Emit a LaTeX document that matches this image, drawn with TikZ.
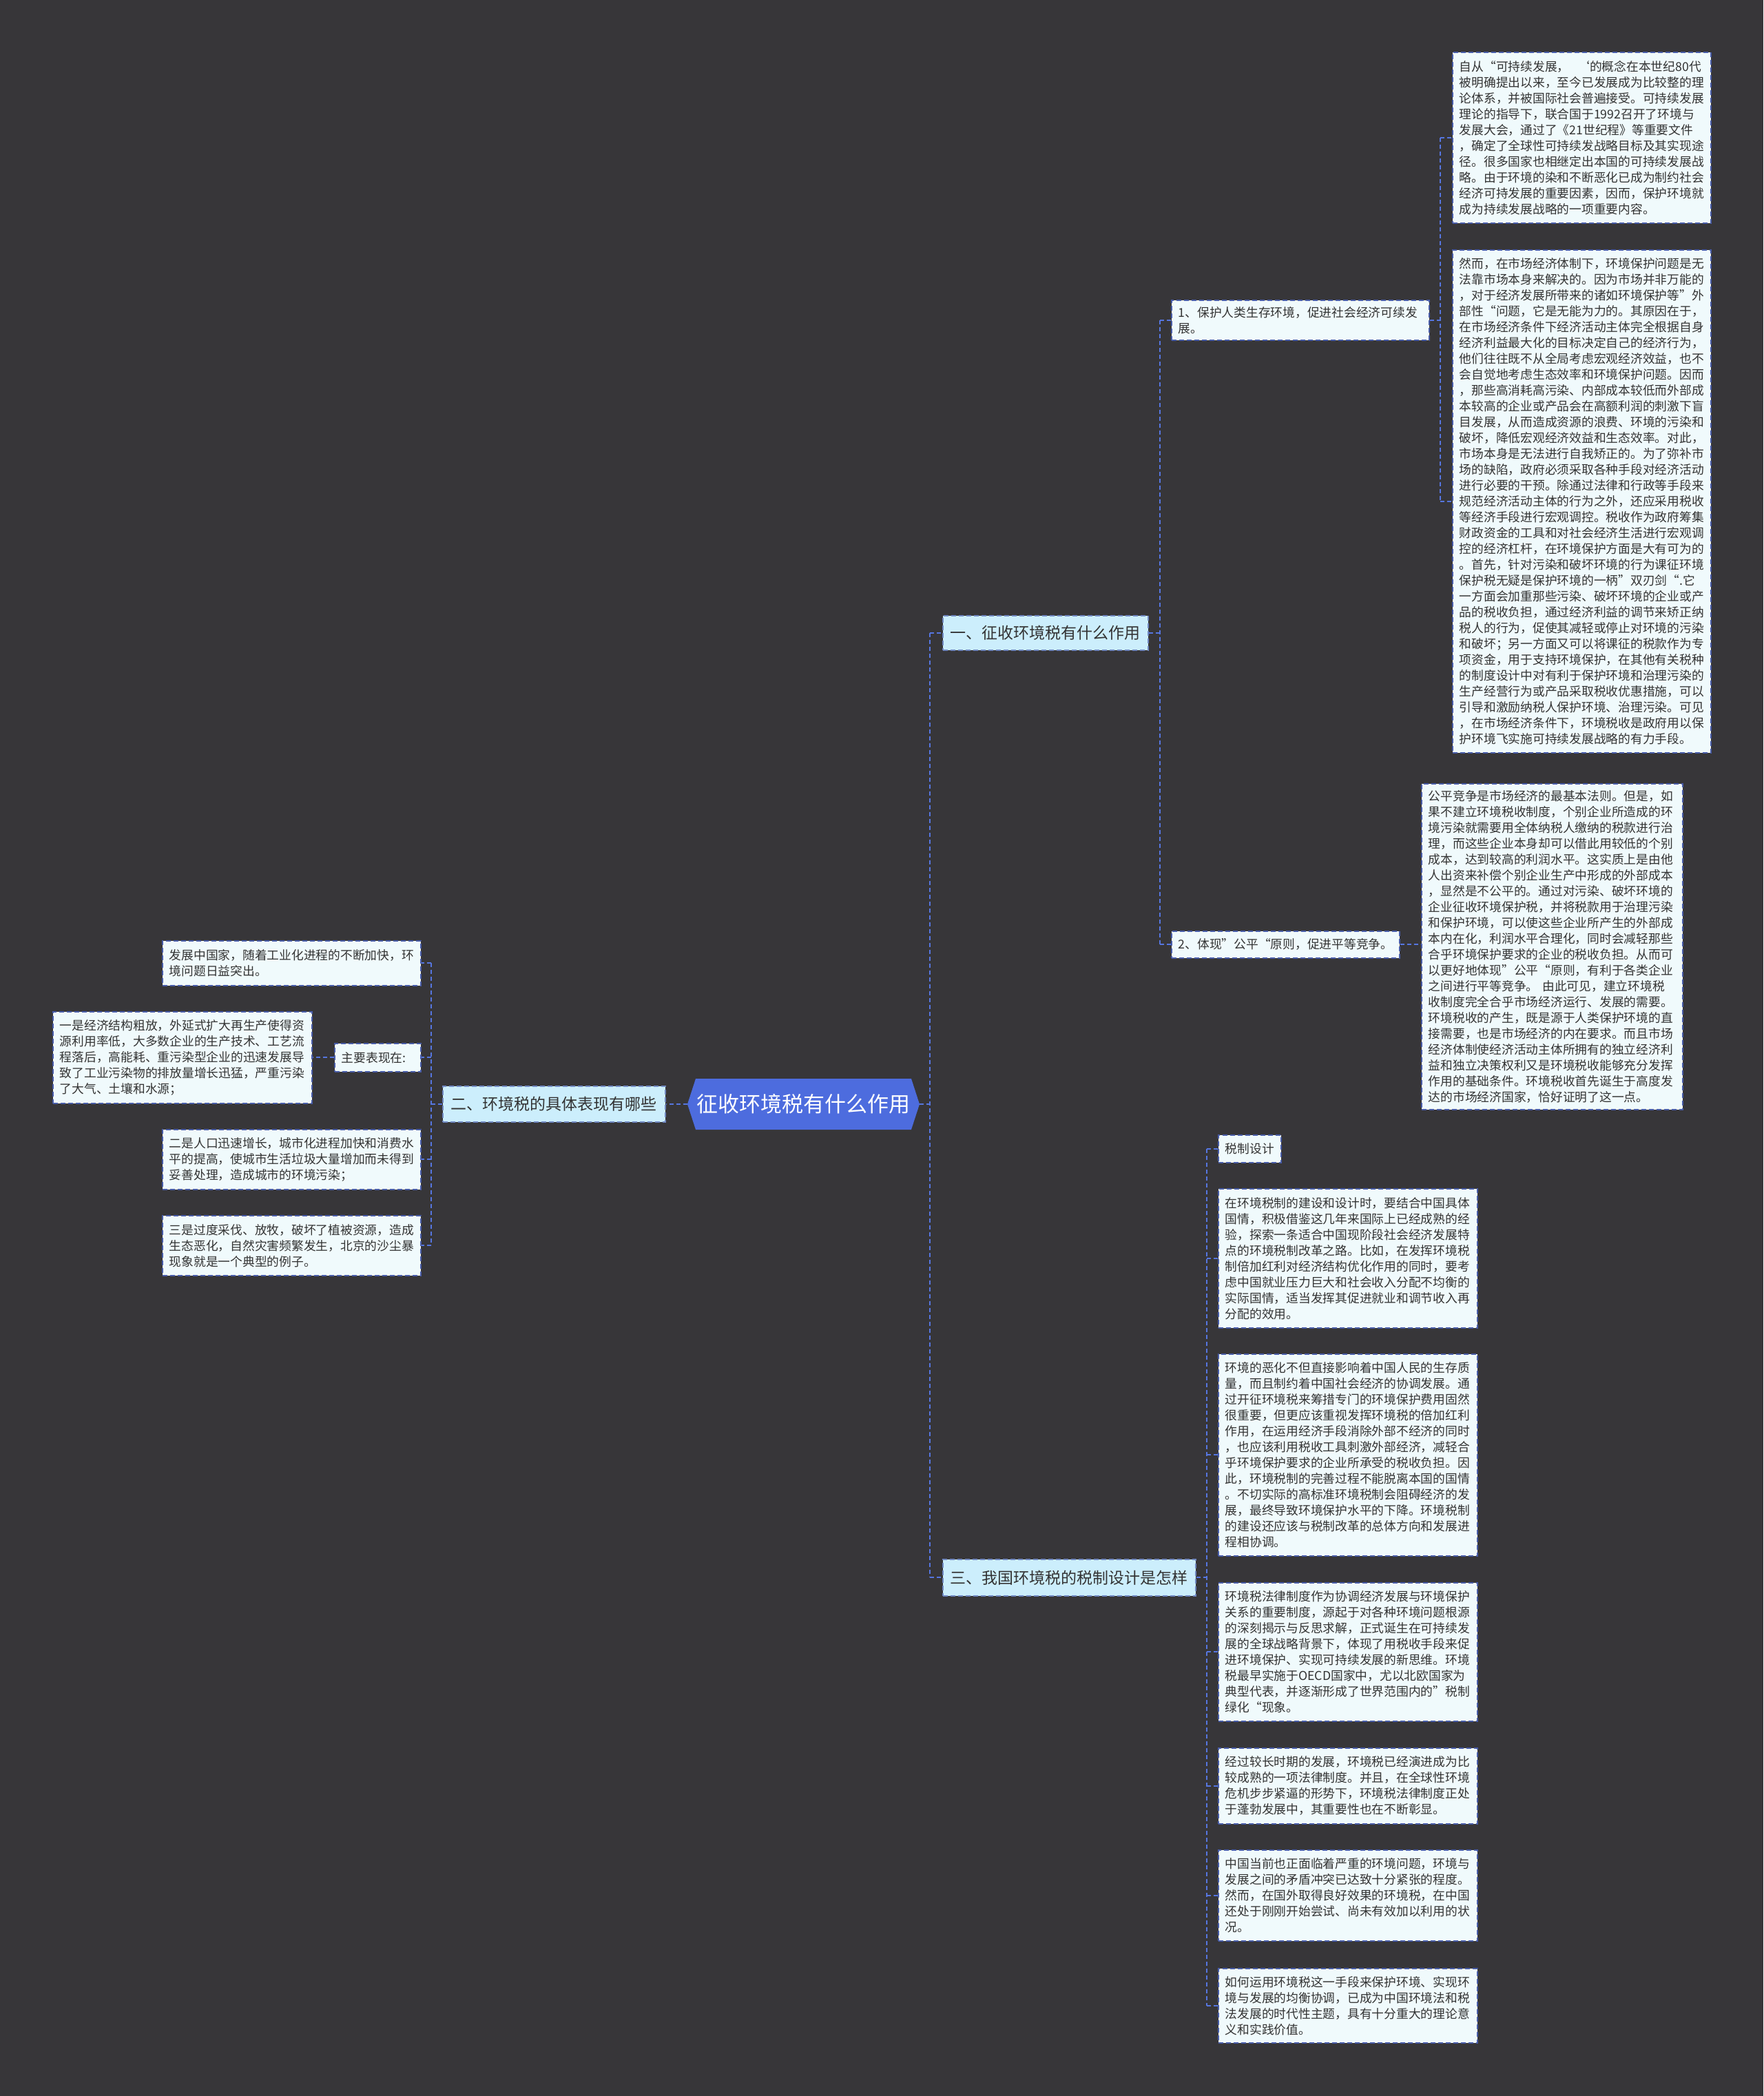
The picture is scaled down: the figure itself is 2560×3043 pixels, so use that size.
\documentclass[tikz,border=0pt]{standalone}
\usepackage{fontspec}
\setmainfont{Noto Sans CJK SC}
\usetikzlibrary{shapes.symbols}
\definecolor{bgc}{RGB}{55,54,57}
\definecolor{cblue}{RGB}{77,108,222}
\definecolor{lnc}{RGB}{86,118,224}
\definecolor{brf}{RGB}{204,238,252}
\definecolor{lff}{RGB}{240,250,252}
\definecolor{bdc}{RGB}{72,92,168}
\definecolor{txc}{RGB}{51,51,51}
\tikzset{
 conn/.style={draw=lnc, line width=1.8pt, dash pattern=on 6pt off 4pt},
 leaf/.style={draw=bdc, fill=lff, line width=1.6pt, dash pattern=on 7pt off 4pt, text=txc,
   font=\fontsize{17.75}{23}\selectfont, align=left, anchor=north west, inner xsep=10pt, inner ysep=0pt},
 branch/.style={draw=bdc!70!brf, fill=brf, line width=1.6pt, dash pattern=on 7pt off 4pt, text=txc,
   font=\fontsize{23}{28}\selectfont, anchor=north west, inner xsep=11pt, inner ysep=0pt},
}
\begin{document}
\begin{tikzpicture}[x=1pt,y=-1pt]
\fill[bgc] (0,0) rectangle (2560,3043);
\useasboundingbox (0,0) rectangle (2560,3043);

% center
\node[signal, signal to=west and east, signal pointer angle=144, fill=cblue, text=white,
  font=\fontsize{31}{36}\selectfont, minimum width=337pt, minimum height=74pt, inner sep=0pt]
  (c) at (1166.5,1603) {征收环境税有什么作用};

% branches
\node[branch, minimum width=298pt, minimum height=50pt] (b1) at (1368,893) {一、征收环境税有什么作用};
\node[branch, minimum width=323pt, minimum height=52pt] (b2) at (642,1576) {二、环境税的具体表现有哪些};
\node[branch, minimum width=367pt, minimum height=53pt] (b3) at (1368,2263) {三、我国环境税的税制设计是怎样};

% branch 1 children
\node[leaf, text width=354pt, minimum height=58pt] (s1) at (1700,435) {1、保护人类生存环境，促进社会经济可续发\\展。};
\node[leaf, text width=311pt, minimum height=39pt] (s2) at (1700,1351) {2、体现”公平“原则，促进平等竞争。};

\node[leaf, text width=355pt, minimum height=248pt] (la) at (2108,75) {自从“可持续发展，~~‘的概念在本世纪80代\\
被明确提出以来，至今已发展成为比较整的理\\
论体系，并被国际社会普遍接受。可持续发展\\
理论的指导下，联合国于1992召开了环境与\\
发展大会，通过了《21世纪程》等重要文件\\
，确定了全球性可持续发战略目标及其实现途\\
径。很多国家也相继定出本国的可持续发展战\\
略。由于环境的染和不断恶化已成为制约社会\\
经济可持发展的重要因素，因而，保护环境就\\
成为持续发展战略的一项重要内容。};

\node[leaf, text width=355pt, minimum height=730pt] (lb) at (2108,362) {然而，在市场经济体制下，环境保护问题是无\\
法靠市场本身来解决的。因为市场并非万能的\\
，对于经济发展所带来的诸如环境保护等”外\\
部性“问题，它是无能为力的。其原因在于，\\
在市场经济条件下经济活动主体完全根据自身\\
经济利益最大化的目标决定自己的经济行为，\\
他们往往既不从全局考虑宏观经济效益，也不\\
会自觉地考虑生态效率和环境保护问题。因而\\
，那些高消耗高污染、内部成本较低而外部成\\
本较高的企业或产品会在高额利润的刺激下盲\\
目发展，从而造成资源的浪费、环境的污染和\\
破坏，降低宏观经济效益和生态效率。对此，\\
市场本身是无法进行自我矫正的。为了弥补市\\
场的缺陷，政府必须采取各种手段对经济活动\\
进行必要的干预。除通过法律和行政等手段来\\
规范经济活动主体的行为之外，还应采用税收\\
等经济手段进行宏观调控。税收作为政府筹集\\
财政资金的工具和对社会经济生活进行宏观调\\
控的经济杠杆，在环境保护方面是大有可为的\\
。首先，针对污染和破坏环境的行为课征环境\\
保护税无疑是保护环境的一柄”双刃剑“.它\\
一方面会加重那些污染、破坏环境的企业或产\\
品的税收负担，通过经济利益的调节来矫正纳\\
税人的行为，促使其减轻或停止对环境的污染\\
和破坏；另一方面又可以将课征的税款作为专\\
项资金，用于支持环境保护，在其他有关税种\\
的制度设计中对有利于保护环境和治理污染的\\
生产经营行为或产品采取税收优惠措施，可以\\
引导和激励纳税人保护环境、治理污染。可见\\
，在市场经济条件下，环境税收是政府用以保\\
护环境飞实施可持续发展战略的有力手段。};

\node[leaf, text width=359pt, minimum height=473pt] (lc) at (2063,1137) {公平竞争是市场经济的最基本法则。但是，如\\
果不建立环境税收制度，个别企业所造成的环\\
境污染就需要用全体纳税人缴纳的税款进行治\\
理，而这些企业本身却可以借此用较低的个别\\
成本，达到较高的利润水平。这实质上是由他\\
人出资来补偿个别企业生产中形成的外部成本\\
，显然是不公平的。通过对污染、破坏环境的\\
企业征收环境保护税，并将税款用于治理污染\\
和保护环境，可以使这些企业所产生的外部成\\
本内在化，利润水平合理化，同时会减轻那些\\
合乎环境保护要求的企业的税收负担。从而可\\
以更好地体现”公平“原则，有利于各类企业\\
之间进行平等竞争。~由此可见，建立环境税\\
收制度完全合乎市场经济运行、发展的需要。\\
环境税收的产生，既是源于人类保护环境的直\\
接需要，也是市场经济的内在要求。而且市场\\
经济体制使经济活动主体所拥有的独立经济利\\
益和独立决策权利又是环境税收能够充分发挥\\
作用的基础条件。环境税收首先诞生于高度发\\
达的市场经济国家，恰好证明了这一点。};

% branch 2 children
\node[leaf, text width=355pt, minimum height=65pt] (l1) at (235,1365) {发展中国家，随着工业化进程的不断加快，环\\境问题日益突出。};
\node[leaf, text width=105pt, minimum height=41pt] (m) at (485,1514) {主要表现在:};
\node[leaf, text width=356pt, minimum height=133pt] (l2) at (76,1468) {一是经济结构粗放，外延式扩大再生产使得资\\
源利用率低，大多数企业的生产技术、工艺流\\
程落后，高能耗、重污染型企业的迅速发展导\\
致了工业污染物的排放量增长迅猛，严重污染\\
了大气、土壤和水源；};
\node[leaf, text width=355pt, minimum height=87pt] (l3) at (235,1639) {二是人口迅速增长，城市化进程加快和消费水\\
平的提高，使城市生活垃圾大量增加而未得到\\
妥善处理，造成城市的环境污染；};
\node[leaf, text width=355pt, minimum height=87pt] (l4) at (235,1764) {三是过度采伐、放牧，破坏了植被资源，造成\\
生态恶化，自然灾害频繁发生，北京的沙尘暴\\
现象就是一个典型的例子。};

% branch 3 children
\node[leaf, text width=71pt, minimum height=40pt] (t0) at (1768,1647) {税制设计};
\node[leaf, text width=356pt, minimum height=202pt] (r1) at (1768,1725) {在环境税制的建设和设计时，要结合中国具体\\
国情，积极借鉴这几年来国际上已经成熟的经\\
验，探索一条适合中国现阶段社会经济发展特\\
点的环境税制改革之路。比如，在发挥环境税\\
制倍加红利对经济结构优化作用的同时，要考\\
虑中国就业压力巨大和社会收入分配不均衡的\\
实际国情，适当发挥其促进就业和调节收入再\\
分配的效用。};
\node[leaf, text width=356pt, minimum height=293pt] (r2) at (1768,1965) {环境的恶化不但直接影响着中国人民的生存质\\
量，而且制约着中国社会经济的协调发展。通\\
过开征环境税来筹措专门的环境保护费用固然\\
很重要，但更应该重视发挥环境税的倍加红利\\
作用，在运用经济手段消除外部不经济的同时\\
，也应该利用税收工具刺激外部经济，减轻合\\
乎环境保护要求的企业所承受的税收负担。因\\
此，环境税制的完善过程不能脱离本国的国情\\
。不切实际的高标准环境税制会阻碍经济的发\\
展，最终导致环境保护水平的下降。环境税制\\
的建设还应该与税制改革的总体方向和发展进\\
程相协调。};
\node[leaf, text width=356pt, minimum height=201pt] (r3) at (1768,2297) {环境税法律制度作为协调经济发展与环境保护\\
关系的重要制度，源起于对各种环境问题根源\\
的深刻揭示与反思求解，正式诞生在可持续发\\
展的全球战略背景下，体现了用税收手段来促\\
进环境保护、实现可持续发展的新思维。环境\\
税最早实施于OECD国家中，尤以北欧国家为\\
典型代表，并逐渐形成了世界范围内的”税制\\
绿化“现象。};
\node[leaf, text width=356pt, minimum height=110pt] (r4) at (1768,2537) {经过较长时期的发展，环境税已经演进成为比\\
较成熟的一项法律制度。并且，在全球性环境\\
危机步步紧逼的形势下，环境税法律制度正处\\
于蓬勃发展中，其重要性也在不断彰显。};
\node[leaf, text width=356pt, minimum height=132pt] (r5) at (1768,2685) {中国当前也正面临着严重的环境问题，环境与\\
发展之间的矛盾冲突已达致十分紧张的程度。\\
然而，在国外取得良好效果的环境税，在中国\\
还处于刚刚开始尝试、尚未有效加以利用的状\\
况。};
\node[leaf, text width=356pt, minimum height=108pt] (r6) at (1768,2857) {如何运用环境税这一手段来保护环境、实现环\\
境与发展的均衡协调，已成为中国环境法和税\\
法发展的时代性主题，具有十分重大的理论意\\
义和实践价值。};

% connectors: center
\coordinate (j0) at (1350,1603);
\draw[conn] (c.east) -- (j0);
\draw[conn] (j0 |- b1.west) -- (j0 |- b3.west);
\draw[conn] (j0 |- b1.west) -- (b1.west);
\draw[conn] (j0 |- b3.west) -- (b3.west);
\draw[conn] (c.west) -- (c.west -| b2.east);

% branch 1
\coordinate (j1) at (1684,918);
\draw[conn] (b1.east) -- (b1.east -| j1);
\draw[conn] (j1 |- s1.west) -- (j1 |- s2.west);
\draw[conn] (j1 |- s1.west) -- (s1.west);
\draw[conn] (j1 |- s2.west) -- (s2.west);
\coordinate (j2) at (2091,464);
\draw[conn] (s1.east) -- (s1.east -| j2);
\draw[conn] (j2 |- la.west) -- (j2 |- lb.west);
\draw[conn] (j2 |- la.west) -- (la.west);
\draw[conn] (j2 |- lb.west) -- (lb.west);
\draw[conn] (s2.east) -- (s2.east -| lc.west);

% branch 2
\coordinate (j3) at (626,1602);
\draw[conn] (b2.west) -- (b2.west -| j3);
\draw[conn] (j3 |- l1.east) -- (j3 |- l4.east);
\foreach \n in {l1,m,l3,l4} \draw[conn] (j3 |- \n.east) -- (\n.east);
\draw[conn] (m.west) -- (m.west -| l2.east);

% branch 3
\coordinate (j4) at (1752,2289);
\draw[conn] (b3.east) -- (b3.east -| j4);
\draw[conn] (j4 |- t0.west) -- (j4 |- r6.west);
\foreach \n in {t0,r1,r2,r3,r4,r5,r6} \draw[conn] (j4 |- \n.west) -- (\n.west);
\end{tikzpicture}
\end{document}
